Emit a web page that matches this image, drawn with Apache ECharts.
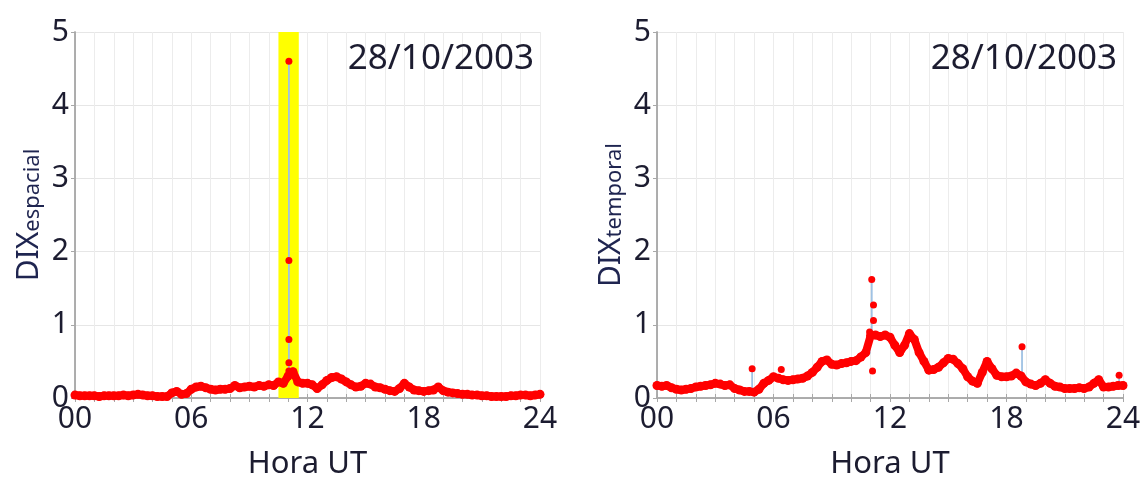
<!DOCTYPE html>
<html>
<head>
<meta charset="utf-8">
<script src="https://cdn.jsdelivr.net/npm/echarts@6/dist/echarts.min.js"></script>
<style>
  html, body { margin: 0; padding: 0; background: #fff; }
  #chart { width: 1144px; height: 477px; }
</style>
</head>
<body>
<div id="chart"></div>
<script>
// time axis: hours UT, 15-minute steps from 00 to 24
const hourTicks = [0, 6, 12, 18, 24]
const dateLabel = '28/10/2003'

// DIX espacial (left panel), one value every 15 minutes
const espacial = [
  0.04, 0.03, 0.03, 0.03,
  0.03, 0.02, 0.03, 0.03,
  0.03, 0.03, 0.04, 0.03,
  0.04, 0.05, 0.04, 0.03,
  0.03, 0.02, 0.02, 0.02,
  0.07, 0.09, 0.05, 0.06,
  0.12, 0.15, 0.16, 0.14,
  0.12, 0.11, 0.12, 0.12,
  0.13, 0.17, 0.14, 0.15,
  0.16, 0.15, 0.17, 0.16,
  0.18, 0.17, 0.22, 0.20,
  0.30, 0.36, 0.22, 0.20,
  0.20, 0.18, 0.13, 0.18,
  0.24, 0.28, 0.29, 0.26,
  0.22, 0.18, 0.15, 0.16,
  0.20, 0.19, 0.15, 0.14,
  0.12, 0.10, 0.09, 0.13,
  0.20, 0.15, 0.11, 0.10,
  0.09, 0.10, 0.11, 0.15,
  0.10, 0.08, 0.07, 0.06,
  0.05, 0.05, 0.04, 0.04,
  0.03, 0.03, 0.02, 0.02,
  0.02, 0.02, 0.03, 0.03,
  0.04, 0.04, 0.03, 0.04,
  0.05
]

// DIX temporal (right panel), one value every 15 minutes
const temporal = [
  0.17, 0.16, 0.17, 0.14,
  0.12, 0.11, 0.12, 0.13,
  0.15, 0.16, 0.17, 0.18,
  0.20, 0.19, 0.17, 0.18,
  0.13, 0.11, 0.09, 0.09,
  0.08, 0.12, 0.20, 0.24,
  0.29, 0.27, 0.25, 0.24,
  0.25, 0.26, 0.27, 0.30,
  0.35, 0.42, 0.50, 0.52,
  0.46, 0.45, 0.47, 0.48,
  0.50, 0.51, 0.56, 0.62,
  0.85, 0.86, 0.84, 0.86,
  0.83, 0.72, 0.62, 0.72,
  0.88, 0.80, 0.62, 0.50,
  0.38, 0.39, 0.42, 0.48,
  0.54, 0.53, 0.47, 0.40,
  0.29, 0.23, 0.20, 0.35,
  0.50, 0.40, 0.31, 0.29,
  0.29, 0.30, 0.34, 0.30,
  0.22, 0.19, 0.17, 0.20,
  0.25, 0.20, 0.16, 0.15,
  0.13, 0.13, 0.13, 0.14,
  0.13, 0.15, 0.20, 0.25,
  0.15, 0.15, 0.16, 0.17,
  0.17
]

// isolated outlier points
const espacialSpikeTimes = [11.04, 11.04, 11.04, 11.04, 11.04]
const espacialSpikeValues = [4.6, 1.88, 0.8, 0.48, 0.37]
const temporalSpikeTimes = [4.9, 6.4, 10.95, 11.06, 11.15, 11.15, 11.1, 18.8, 23.8]
const temporalSpikeValues = [0.4, 0.39, 0.9, 1.62, 1.27, 1.06, 0.37, 0.7, 0.31]

// vertical connecting stems (time, from, to)
const espacialStemTimes = [11.04]
const espacialStemFrom = [0.3]
const espacialStemTo = [4.6]
const temporalStemTimes = [4.9, 10.95, 11.06, 18.8, 23.8]
const temporalStemFrom = [0.1, 0.6, 0.85, 0.3, 0.17]
const temporalStemTo = [0.4, 0.9, 1.62, 0.7, 0.31]

// highlighted interval on the left panel
const highlightStart = 10.5
const highlightEnd = 11.55

const step = 0.25
const toPairs = vals => vals.map((v, i) => [i * step, v])
const spikePairs = (ts, vs) => ts.map((t, i) => [t, vs[i]])
const stemPairs = (ts, from, to) => {
  const out = []
  ts.forEach((t, i) => {
    out.push([t, from[i]], [t, to[i]], [t, '-'])
  })
  return out
}

const font = 'Noto Sans'
const textColor = '#1c1c30'
const grids = [
  { left: 75, top: 32, width: 465, height: 366, outerBoundsMode: 'none' },
  { left: 657, top: 32, width: 466, height: 366, outerBoundsMode: 'none' }
]

function bottomAxis(gridIndex) {
  return {
    type: 'value', gridIndex, min: 0, max: 24, interval: 1,
    name: 'Hora UT', nameLocation: 'middle', nameGap: 51,
    nameTextStyle: { fontFamily: font, fontSize: 31, color: textColor },
    axisLine: { show: true, lineStyle: { color: '#a8a8a8', width: 1.5 } },
    axisTick: { show: true, inside: true, length: 4, lineStyle: { color: '#a8a8a8' } },
    axisLabel: {
      fontFamily: font, fontSize: 30, color: textColor, margin: 6,
      formatter: v => hourTicks.includes(v) ? String(v).padStart(2, '0') : ''
    },
    splitLine: { show: true, lineStyle: { color: '#ececec', width: 1 } }
  }
}
function topAxis(gridIndex) {
  return {
    type: 'value', gridIndex, position: 'top', min: 0, max: 24, interval: 1,
    axisLine: { show: true, lineStyle: { color: '#a8a8a8', width: 1.5 } },
    axisTick: { show: true, inside: true, length: 4, lineStyle: { color: '#a8a8a8' } },
    axisLabel: { show: false },
    splitLine: { show: false }
  }
}
function leftAxis(gridIndex, sub) {
  return {
    type: 'value', gridIndex, min: 0, max: 5, interval: 1,
    name: '{a|DIX}{b|' + sub + '}', nameLocation: 'middle', nameGap: 31, nameRotate: 90,
    nameTextStyle: {
      rich: {
        a: { fontFamily: font, fontSize: 30, color: '#1f2550', verticalAlign: 'bottom', lineHeight: 34 },
        b: { fontFamily: font, fontSize: 22, color: '#1f2550', verticalAlign: 'bottom', lineHeight: 34 }
      }
    },
    axisLine: { show: true, lineStyle: { color: '#a8a8a8', width: 1.5 } },
    axisTick: { show: false },
    axisLabel: { fontFamily: font, fontSize: 30, color: textColor, margin: 6 },
    splitLine: { show: true, lineStyle: { color: '#e6e6e6', width: 1 } }
  }
}
function rightAxis(gridIndex) {
  return {
    type: 'value', gridIndex, position: 'right', min: 0, max: 5, interval: 1,
    axisLine: { show: true, lineStyle: { color: '#a8a8a8', width: 1.5 } },
    axisTick: { show: true, inside: true, length: 4, lineStyle: { color: '#a8a8a8' } },
    axisLabel: { show: false },
    splitLine: { show: false }
  }
}

function panelSeries(i, vals, spT, spV, stT, stF, stTo, extra) {
  const trace = {
    type: 'line', xAxisIndex: i, yAxisIndex: i,
    data: toPairs(vals), showSymbol: false,
    lineStyle: { color: '#ff0000', width: 8, cap: 'round', join: 'round' }, z: 3, silent: true
  }
  if (extra) Object.assign(trace, extra)
  return [
    {
      type: 'line', xAxisIndex: i, yAxisIndex: i,
      data: stemPairs(stT, stF, stTo), showSymbol: false, connectNulls: false,
      lineStyle: { color: '#9fc2e4', width: 1.8 }, z: 2, silent: true
    },
    trace,
    {
      type: 'scatter', xAxisIndex: i, yAxisIndex: i,
      data: toPairs(vals), symbolSize: 9,
      itemStyle: { color: '#ff0000', opacity: 1 }, z: 4, silent: true
    },
    {
      type: 'scatter', xAxisIndex: i, yAxisIndex: i,
      data: spikePairs(spT, spV), symbolSize: 7,
      itemStyle: { color: '#ff0000', opacity: 1 }, z: 5, silent: true
    }
  ]
}

const chart = echarts.init(document.getElementById('chart'), null, { renderer: 'canvas' })
const option = {
  animation: false,
  backgroundColor: '#ffffff',
  textStyle: { fontFamily: font },
  title: [
    { text: dateLabel, right: 610, top: 42, padding: 0,
      textStyle: { fontFamily: font, fontSize: 35, fontWeight: 'normal', color: textColor } },
    { text: dateLabel, right: 27, top: 42, padding: 0,
      textStyle: { fontFamily: font, fontSize: 35, fontWeight: 'normal', color: textColor } }
  ],
  grid: grids,
  xAxis: [bottomAxis(0), bottomAxis(1), topAxis(0), topAxis(1)],
  yAxis: [leftAxis(0, 'espacial'), leftAxis(1, 'temporal'), rightAxis(0), rightAxis(1)],
  series: [
    ...panelSeries(0, espacial, espacialSpikeTimes, espacialSpikeValues,
      espacialStemTimes, espacialStemFrom, espacialStemTo, {
        markArea: {
          silent: true,
          itemStyle: { color: '#ffff00' },
          data: [[{ xAxis: highlightStart }, { xAxis: highlightEnd }]]
        }
      }),
    ...panelSeries(1, temporal, temporalSpikeTimes, temporalSpikeValues,
      temporalStemTimes, temporalStemFrom, temporalStemTo)
  ]
}
chart.setOption(option)
window.addEventListener('resize', () => chart.resize())
</script>
</body>
</html>
